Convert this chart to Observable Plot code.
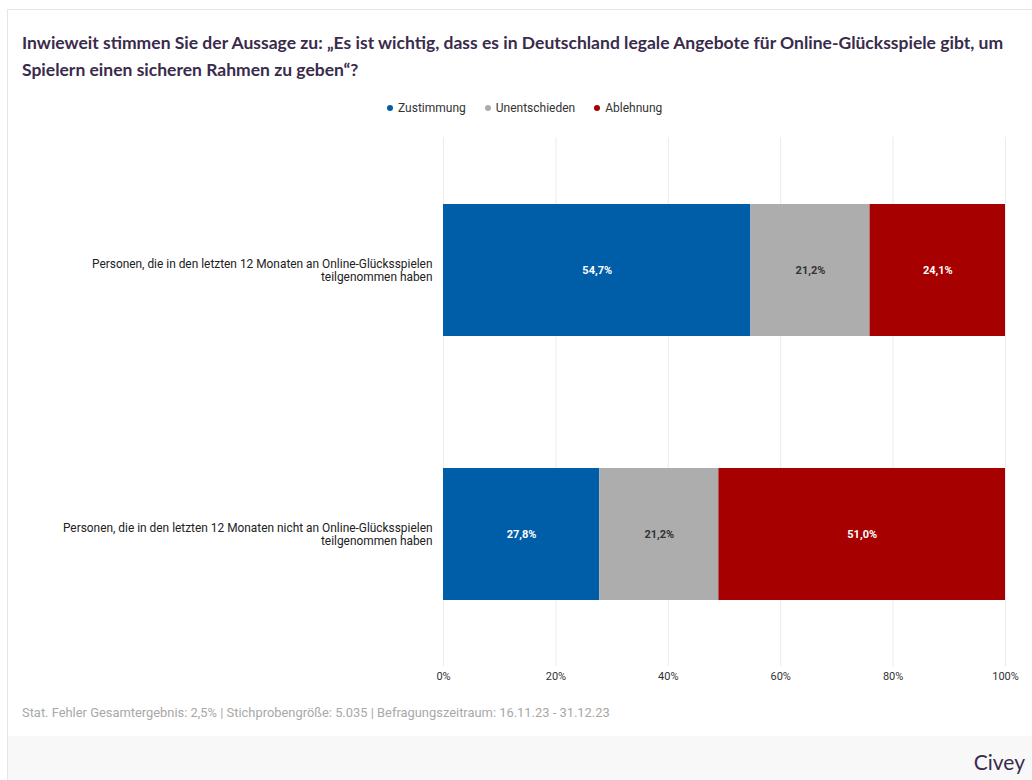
<!DOCTYPE html>
<html><head><meta charset="utf-8">
<script src="https://cdn.jsdelivr.net/npm/d3@7"></script>
<script src="https://cdn.jsdelivr.net/npm/@observablehq/plot@0.6"></script>
<style>
html,body{margin:0;padding:0;background:#fff;width:1032px;height:780px;overflow:hidden;}
#card{position:absolute;left:7px;top:9px;width:1040px;height:780px;border-top:1px solid #e6e6e6;border-left:1px solid #e6e6e6;}
#title{position:absolute;left:22px;top:29px;font-family:Lato,sans-serif;font-weight:700;font-size:17.5px;line-height:27px;color:#3a2b4c;white-space:nowrap;}
#legend{position:absolute;left:387px;top:101px;font-family:Roboto,sans-serif;font-size:12px;color:#333;white-space:nowrap;display:flex;gap:19px;}
#legend span.dot{display:inline-block;width:6px;height:6px;border-radius:50%;margin-right:5px;vertical-align:1px;}
#chart{position:absolute;left:0;top:130px;}
#note{position:absolute;left:22px;top:705px;font-family:Roboto,sans-serif;font-size:12.9px;color:#a8a8a8;white-space:nowrap;}
#foot{position:absolute;left:8px;top:736px;width:1030px;height:44px;background:#f8f8f8;}
#brand{position:absolute;right:7px;top:749px;font-family:Lato,sans-serif;font-size:21px;color:#3a2b4c;}
</style></head>
<body>
<div id="card"></div>
<div id="title">Inwieweit stimmen Sie der Aussage zu: „Es ist wichtig, dass es in Deutschland legale Angebote für Online-Glücksspiele gibt, um<br>Spielern einen sicheren Rahmen zu geben“?</div>
<div id="legend"></div>
<div id="chart"></div>
<div id="note">Stat. Fehler Gesamtergebnis: 2,5% | Stichprobengröße: 5.035 | Befragungszeitraum: 16.11.23 - 31.12.23</div>
<div id="foot"></div>
<div id="brand">Civey</div>
<script>
const groups = [
  "Personen, die in den letzten 12 Monaten an Online-Glücksspielen teilgenommen haben",
  "Personen, die in den letzten 12 Monaten nicht an Online-Glücksspielen teilgenommen haben"
];
const groupLabels = [
  "Personen, die in den letzten 12 Monaten an Online-Glücksspielen\nteilgenommen haben",
  "Personen, die in den letzten 12 Monaten nicht an Online-Glücksspielen\nteilgenommen haben"
];
const answers = ["Zustimmung", "Unentschieden", "Ablehnung"];
const zustimmung = [54.7, 27.8];
const unentschieden = [21.2, 21.2];
const ablehnung = [24.1, 51.0];
const colors = ["#005ea8", "#adadad", "#a60000"];
const xTicks = [0, 20, 40, 60, 80, 100];

const series = [zustimmung, unentschieden, ablehnung];
const rows = [];
groups.forEach((g, gi) => answers.forEach((a, ai) => rows.push({group: g, answer: a, value: series[ai][gi]})));
const fmt = v => v.toFixed(1).replace(".", ",") + "%";

const legend = document.getElementById("legend");
answers.forEach((a, i) => {
  const s = document.createElement("span");
  s.innerHTML = `<span class="dot" style="background:${colors[i]}"></span>${a}`;
  legend.appendChild(s);
});

const chart = Plot.plot({
  width: 1032,
  height: 560,
  marginLeft: 443,
  marginRight: 27,
  marginTop: 7,
  marginBottom: 24,
  style: {fontFamily: "Roboto, sans-serif", fontSize: "11px", color: "#333", background: "transparent"},
  x: {domain: [0, 100], label: null},
  y: {domain: groups, label: null, paddingInner: 0.5, paddingOuter: 0.25},
  color: {domain: answers, range: colors},
  marks: [
    Plot.gridX(xTicks, {stroke: "#ebebeb", strokeOpacity: 1}),
    Plot.barX(rows, {x: "value", y: "group", fill: "answer"}),
    Plot.text(rows, Plot.stackX({x: "value", y: "group", text: d => d.answer === "Unentschieden" ? "" : fmt(d.value), fill: "white", fontWeight: "bold", fontSize: 11})),
    Plot.text(rows, Plot.stackX({x: "value", y: "group", text: d => d.answer === "Unentschieden" ? fmt(d.value) : "", fill: "#333", fontWeight: "bold", fontSize: 11})),
    Plot.axisX(xTicks, {tickSize: 0, tickPadding: 6, tickFormat: d => d + "%", label: null, fill: "#333"}),
    Plot.axisY({tickSize: 0, tickPadding: 11, tickFormat: g => groupLabels[groups.indexOf(g)], label: null, fill: "#222", fontSize: 11.9, lineHeight: 1.1})
  ]
});
document.getElementById("chart").appendChild(chart);
</script>
</body></html>
